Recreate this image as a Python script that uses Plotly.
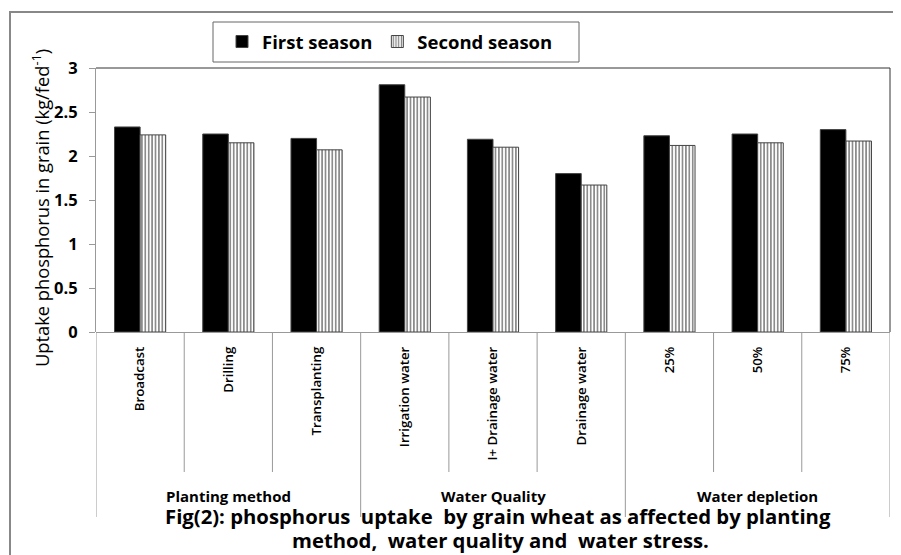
import plotly.graph_objects as go

categories = ["Broadcast", "Drilling", "Transplanting", "Irrigation water", "I+ Drainage water",
              "Drainage water", "25%", "50%", "75%"]
groups = ["Planting method", "Water Quality", "Water depletion"]
group_sizes = [3, 3, 3]
first_season = [2.33, 2.25, 2.20, 2.81, 2.19, 1.80, 2.23, 2.25, 2.30]
second_season = [2.24, 2.15, 2.07, 2.67, 2.10, 1.67, 2.12, 2.15, 2.17]
y_ticks = [0, 0.5, 1, 1.5, 2, 2.5, 3]
y_ticktext = ["0", "0.5", "1", "1.5", "2", "2.5", "3"]

FONT = "Open Sans"
OFF = 8  # page body margin
W, H = 901 - OFF, 555 - OFF
# plot area in screen pixels
PX0, PX1, PY0, PY1 = 96, 890, 68, 332
L, R, T, B = PX0 - OFF, W - (PX1 - OFF), PY0 - OFF, H - (PY1 - OFF)


def py(pix):
    return (PY1 - pix) / (PY1 - PY0)


def px(pix):
    return (pix - PX0) / (PX1 - PX0)


xs = list(range(len(categories)))

fig = go.Figure()
fig.add_trace(go.Bar(
    x=xs, y=first_season, name="First season",
    marker=dict(color="black", line=dict(color="#444", width=1)),
))
fig.add_trace(go.Bar(
    x=xs, y=second_season, name="Second season",
    marker=dict(color="white", line=dict(color="#444", width=1),
                pattern=dict(shape="|", fgcolor="black", bgcolor="white", size=3.4, solidity=0.45)),
))

shapes = []
annotations = []

# dividers
bounds = [-0.5]
for s in group_sizes:
    bounds.append(bounds[-1] + s)
group_edges = set(bounds)
for k in range(len(categories) + 1):
    xb = k - 0.5
    bottom = py(517) if xb in group_edges else py(472)
    shapes.append(dict(type="line", xref="x", yref="paper", x0=xb, x1=xb, y0=0, y1=bottom,
                       line=dict(color="#999", width=1)))

for gi, g in enumerate(groups):
    center = (bounds[gi] + bounds[gi + 1]) / 2
    annotations.append(dict(x=center, y=py(496), xref="x", yref="paper", text="<b>" + g + "</b>",
                            showarrow=False, xanchor="center", yanchor="middle",
                            font=dict(family=FONT, size=15, color="black")))

# plot frame top/right
shapes.append(dict(type="line", xref="paper", yref="paper", x0=0, x1=1, y0=1, y1=1,
                   line=dict(color="#333", width=1)))
shapes.append(dict(type="line", xref="paper", yref="paper", x0=1, x1=1, y0=0, y1=1,
                   line=dict(color="#333", width=1)))
# outer chart border
shapes.append(dict(type="rect", xref="paper", yref="paper", x0=px(10), x1=px(905), y0=py(565), y1=py(12),
                   line=dict(color="#888", width=2), fillcolor="rgba(0,0,0,0)"))
# legend box
shapes.append(dict(type="rect", xref="paper", yref="paper", x0=px(213), x1=px(579), y0=py(62), y1=py(22),
                   line=dict(color="#666", width=1), fillcolor="white"))

# y-axis title
annotations.append(dict(x=px(40), y=py(208), xref="paper", yref="paper",
                        text="Uptake phosphorus in grain (kg/fed<sup>-1</sup>)", textangle=-90,
                        showarrow=False, xanchor="center", yanchor="middle",
                        font=dict(family=FONT, size=18.3, color="black")))

# caption
annotations.append(dict(x=px(498), y=py(516), xref="paper", yref="paper",
                        text="<b>Fig(2): phosphorus  uptake  by grain wheat as affected by planting</b>",
                        showarrow=False, xanchor="center", yanchor="middle",
                        font=dict(family=FONT, size=20.3, color="black")))
annotations.append(dict(x=px(500), y=py(540), xref="paper", yref="paper",
                        text="<b>method,  water quality and  water stress.</b>",
                        showarrow=False, xanchor="center", yanchor="middle",
                        font=dict(family=FONT, size=20.3, color="black")))

fig.update_layout(
    width=W, height=H,
    margin=dict(l=L, r=R, t=T, b=B, autoexpand=False),
    plot_bgcolor="white", paper_bgcolor="white",
    barmode="group", bargap=0.42, bargroupgap=0,
    font=dict(family=FONT, color="black"),
    showlegend=True,
    legend=dict(orientation="h", x=px(222), y=py(42), xanchor="left", yanchor="middle",
                borderwidth=0, bgcolor="rgba(0,0,0,0)",
                font=dict(family=FONT, size=18.5, color="black", weight="bold"),
                itemwidth=30),
    xaxis=dict(range=[-0.5, 8.5], tickvals=xs, ticktext=categories, tickangle=-90,
               ticks="", showgrid=False, zeroline=False, showline=False, automargin=False,
               ticklabelstandoff=11,
               tickfont=dict(family=FONT, size=13.3, color="black", weight=600)),
    yaxis=dict(range=[0, 3], tickvals=y_ticks, ticktext=y_ticktext, ticks="outside", ticklen=6,
               tickcolor="#999", showline=True, linecolor="#999", linewidth=1, showgrid=False,
               zeroline=True, zerolinecolor="#999", zerolinewidth=1, automargin=False,
               ticklabelstandoff=8,
               tickfont=dict(family=FONT, size=16.5, color="black", weight="bold")),
    shapes=shapes, annotations=annotations,
)

fig.write_html("out.html")
